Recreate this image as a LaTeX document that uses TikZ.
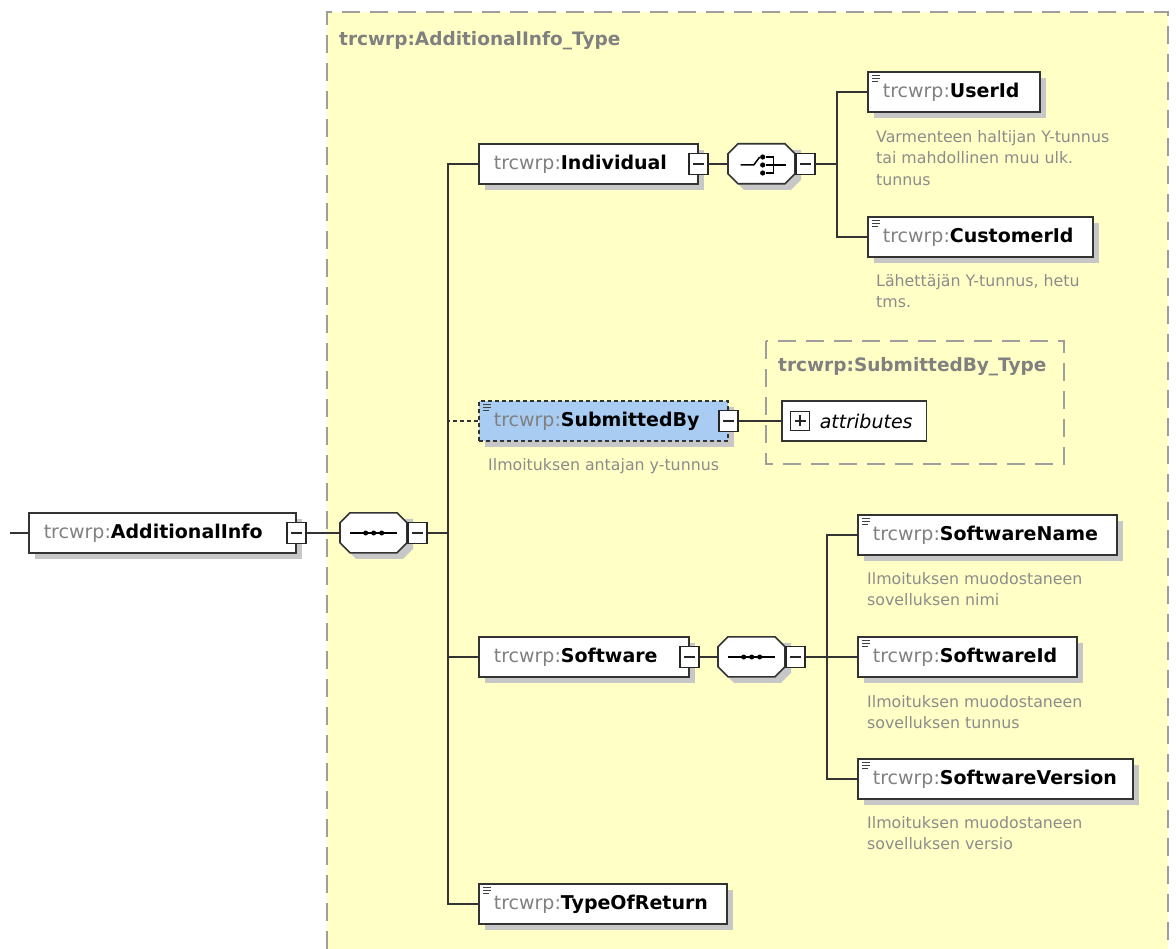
\documentclass[tikz,border=0pt]{standalone}
\usepackage{fontspec}
\setmainfont{DejaVu Sans}
\usetikzlibrary{shadows}
\definecolor{typefill}{RGB}{255,255,198}
\definecolor{subfill}{RGB}{168,204,242}
\definecolor{pfxgray}{RGB}{128,128,128}
\definecolor{docgray}{RGB}{140,140,140}

\begin{document}
\begin{tikzpicture}[x=1pt,y=-1pt,
    conn/.style={draw=black!80, line width=1.6pt},
    sym/.style={draw=black, line width=1.5pt},
    icon/.style={draw=black!75, line width=1pt},
    typebox/.style={draw=black!38, line width=2pt, dash pattern=on 18pt off 10pt},
    ttl/.style={anchor=west, inner sep=0pt, text=black!50, font=\fontsize{18.5pt}{21pt}\selectfont\bfseries},
    elem/.style={draw=black!80, line width=1.6pt, fill=white, anchor=west,
      minimum height=40pt, inner xsep=15pt, inner ysep=0pt, align=left,
      font=\fontsize{19pt}{22pt}\selectfont,
      drop shadow={shadow xshift=6pt, shadow yshift=-6pt, fill=black!22, opacity=1}},
    optelem/.style={elem, fill=subfill, dash pattern=on 4pt off 3pt},
    attr/.style={draw=black!80, line width=1.6pt, fill=white, anchor=west,
      minimum height=40pt, inner xsep=14pt, inner ysep=0pt,
      font=\fontsize{19pt}{22pt}\selectfont\itshape},
    compos/.style={anchor=west, minimum width=67pt, minimum height=40pt, inner sep=0pt},
    octagon/.pic={
      \fill[black!22] (16,6) -- (73,6) -- (73,36) -- (63,46) -- (16,46) -- (6,36) -- cycle;
      \filldraw[draw=black!80, line width=1.6pt, fill=white] (10,0) -- (57,0) -- (67,10) -- (67,30) -- (57,40) -- (10,40) -- (0,30) -- (0,10) -- cycle;
    },
    minus/.style={draw=black!85, line width=1.4pt, fill=white, minimum width=19pt,
      minimum height=21pt, inner sep=0pt,
      path picture={\draw[line width=1.2pt] ([xshift=4pt]path picture bounding box.west) -- ([xshift=-4pt]path picture bounding box.east);}},
    plus/.style={draw=black!85, line width=1.4pt, fill=white, minimum width=19pt,
      minimum height=19pt, inner sep=0pt,
      path picture={\draw[line width=1.2pt] ([xshift=4pt]path picture bounding box.west) -- ([xshift=-4pt]path picture bounding box.east)
        ([yshift=-4pt]path picture bounding box.north) -- ([yshift=4pt]path picture bounding box.south);}},
    doc/.style={anchor=north west, inner sep=0pt, align=left, text=docgray,
      font=\fontsize{15.8pt}{21.5pt}\selectfont}
  ]
  \useasboundingbox (0,0) rectangle (1176,949);

  % Typ-Rahmen
  \fill[typefill] (327,12) rectangle (1168,949);
  \draw[typebox] (327,949) -- (327,12) -- (1168,12) -- (1168,949);
  \node[ttl] (tai) at (339,41) {trcwrp:AdditionalInfo\_Type};
  \draw[typebox] (766,341) rectangle (1064,464);
  \node[ttl] (tsub) at (778,367) {trcwrp:SubmittedBy\_Type};

  % Wurzel
  \coordinate (in) at (10,533);
  \node[elem, text width=237pt] (ai) at (28,533) {{\color{pfxgray}trcwrp:}\textbf{AdditionalInfo}};
  \node[minus] (aim) at (ai.east) {};
  \node[compos] (sqa) at (340,533) {};
  \pic at (sqa.north west) {octagon};
  \node[minus, anchor=west] (sqam) at (sqa.east) {};
  \coordinate (tr1) at (448,533);

  % Individual
  \node[elem, text width=189pt] (ind) at (478,164) {{\color{pfxgray}trcwrp:}\textbf{Individual}};
  \node[minus] (indm) at (ind.east) {};
  \node[compos] (ch) at (728,164) {};
  \pic at (ch.north west) {octagon};
  \node[minus, anchor=west] (chm) at (ch.east) {};
  \coordinate (tr2) at (837,164);
  \node[elem, text width=142pt] (uid) at (867,92) {{\color{pfxgray}trcwrp:}\textbf{UserId}};
  \node[doc] (uiddoc) at (876,130) {Varmenteen haltijan Y-tunnus\\tai mahdollinen muu ulk.\\tunnus};
  \node[elem, text width=195pt] (cid) at (867,237) {{\color{pfxgray}trcwrp:}\textbf{CustomerId}};
  \node[doc] (ciddoc) at (876,274) {Lähettäjän Y-tunnus, hetu\\tms.};

  % SubmittedBy
  \node[optelem, text width=219pt] (sub) at (478,421) {{\color{pfxgray}trcwrp:}\textbf{SubmittedBy}};
  \node[minus] (subm) at (sub.east) {};
  \node[doc] (subdoc) at (488,458) {Ilmoituksen antajan y-tunnus};
  \node[attr] (att) at (781,421) {\hspace*{24pt}attributes};
  \node[plus] (attp) at (800,421) {};

  % Software
  \node[elem, text width=180pt] (sw) at (478,657) {{\color{pfxgray}trcwrp:}\textbf{Software}};
  \node[minus] (swm) at (sw.east) {};
  \node[compos] (sqs) at (718,657) {};
  \pic at (sqs.north west) {octagon};
  \node[minus, anchor=west] (sqsm) at (sqs.east) {};
  \coordinate (tr3) at (827,657);
  \node[elem, text width=229pt] (sname) at (857,535) {{\color{pfxgray}trcwrp:}\textbf{SoftwareName}};
  \node[doc] (snamedoc) at (867,572) {Ilmoituksen muodostaneen\\sovelluksen nimi};
  \node[elem, text width=189pt] (sid) at (857,657) {{\color{pfxgray}trcwrp:}\textbf{SoftwareId}};
  \node[doc] (siddoc) at (867,695) {Ilmoituksen muodostaneen\\sovelluksen tunnus};
  \node[elem, text width=245pt] (sver) at (857,779) {{\color{pfxgray}trcwrp:}\textbf{SoftwareVersion}};
  \node[doc] (sverdoc) at (867,816) {Ilmoituksen muodostaneen\\sovelluksen versio};

  % TypeOfReturn
  \node[elem, text width=218pt] (tor) at (478,904) {{\color{pfxgray}trcwrp:}\textbf{TypeOfReturn}};

  % Symbole
  \draw[sym] ([xshift=10pt]sqa.west) -- ([xshift=-10pt]sqa.east);
  \fill ([xshift=-8pt]sqa.center) circle (2.5pt);
  \fill (sqa.center) circle (2.5pt);
  \fill ([xshift=8pt]sqa.center) circle (2.5pt);
  \draw[sym] ([xshift=10pt]sqs.west) -- ([xshift=-10pt]sqs.east);
  \fill ([xshift=-8pt]sqs.center) circle (2.5pt);
  \fill (sqs.center) circle (2.5pt);
  \fill ([xshift=8pt]sqs.center) circle (2.5pt);
  \draw[sym] ([shift={(-21,1)}]ch.center) -- ([shift={(-8,1)}]ch.center) -- ([shift={(-2,-7)}]ch.center);
  \fill ([shift={(1,-7)}]ch.center) circle (2.6pt);
  \fill ([shift={(1,1)}]ch.center) circle (2.6pt);
  \fill ([shift={(1,9)}]ch.center) circle (2.6pt);
  \draw[sym] ([shift={(4,-7)}]ch.center) -- ([shift={(12,-7)}]ch.center) -- ([shift={(12,9)}]ch.center) -- ([shift={(4,9)}]ch.center);
  \draw[sym] ([shift={(4,1)}]ch.center) -- ([shift={(24,1)}]ch.center);

  % Doku-Zeichen
  \draw[icon] ([shift={(5,4)}]uid.north west) -- ++(8,0) ([shift={(5,7)}]uid.north west) -- ++(8,0) ([shift={(5,10)}]uid.north west) -- ++(6,0);
  \draw[icon] ([shift={(5,4)}]cid.north west) -- ++(8,0) ([shift={(5,7)}]cid.north west) -- ++(8,0) ([shift={(5,10)}]cid.north west) -- ++(6,0);
  \draw[icon] ([shift={(5,4)}]sub.north west) -- ++(8,0) ([shift={(5,7)}]sub.north west) -- ++(8,0) ([shift={(5,10)}]sub.north west) -- ++(6,0);
  \draw[icon] ([shift={(5,4)}]sname.north west) -- ++(8,0) ([shift={(5,7)}]sname.north west) -- ++(8,0) ([shift={(5,10)}]sname.north west) -- ++(6,0);
  \draw[icon] ([shift={(5,4)}]sid.north west) -- ++(8,0) ([shift={(5,7)}]sid.north west) -- ++(8,0) ([shift={(5,10)}]sid.north west) -- ++(6,0);
  \draw[icon] ([shift={(5,4)}]sver.north west) -- ++(8,0) ([shift={(5,7)}]sver.north west) -- ++(8,0) ([shift={(5,10)}]sver.north west) -- ++(6,0);
  \draw[icon] ([shift={(5,4)}]tor.north west) -- ++(8,0) ([shift={(5,7)}]tor.north west) -- ++(8,0) ([shift={(5,10)}]tor.north west) -- ++(6,0);

  % Verbindungen
  \draw[conn] (in) -- (ai.west);
  \draw[conn] (aim.east) -- (sqa.west);
  \draw[conn] (sqam.east) -- (tr1);
  \draw[conn] (ind.west) -| (tr1);
  \draw[conn] (tor.west) -| (tr1);
  \draw[conn] (sw.west) -- (sw.west -| tr1);
  \draw[conn, dash pattern=on 4pt off 3pt] (sub.west) -- (sub.west -| tr1);
  \draw[conn] (indm.east) -- (ch.west);
  \draw[conn] (chm.east) -- (tr2);
  \draw[conn] (uid.west) -| (tr2);
  \draw[conn] (cid.west) -| (tr2);
  \draw[conn] (subm.east) -- (att.west);
  \draw[conn] (swm.east) -- (sqs.west);
  \draw[conn] (sqsm.east) -- (tr3);
  \draw[conn] (sname.west) -| (tr3);
  \draw[conn] (sver.west) -| (tr3);
  \draw[conn] (sid.west) -- (tr3);
\end{tikzpicture}
\end{document}
